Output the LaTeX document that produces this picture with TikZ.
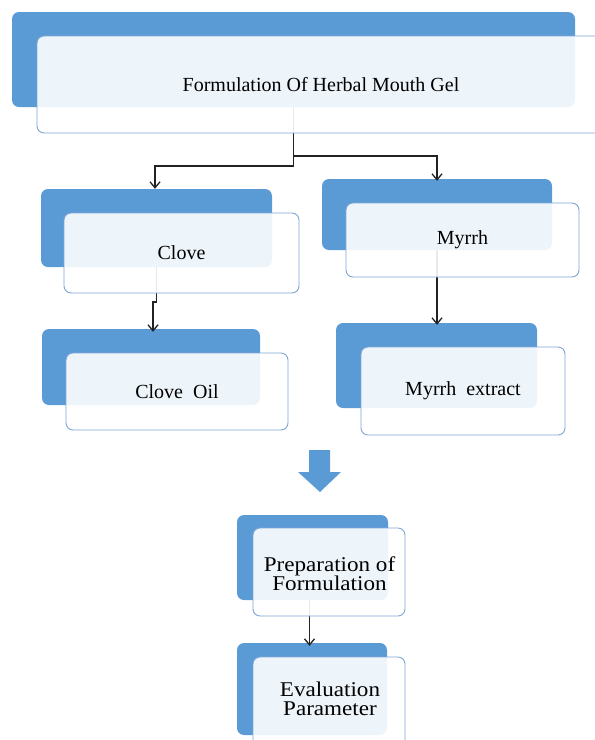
\documentclass[tikz,border=0pt]{standalone}
\usepackage{fontspec}
\setmainfont{Liberation Serif}
\newfontfamily\widefont{Liberation Serif}[FakeStretch=1.1]
\usetikzlibrary{arrows.meta}
\definecolor{boxblue}{HTML}{5B9BD5}
\definecolor{edgeblue}{HTML}{7EA6D6}
\definecolor{linecol}{HTML}{222222}
\begin{document}
\begin{tikzpicture}[x=1pt,y=-1pt,
  backbox/.style={fill=boxblue, rounded corners=7pt, inner sep=0pt, draw=none},
  frontbox/.style={fill=white, fill opacity=0.9, text opacity=1, draw=edgeblue,
    line width=0.9pt, rounded corners=7pt, inner sep=0pt, align=center,
    font=\fontsize{20}{22}\selectfont, text=black},
  boxtext/.style={inner sep=0pt, align=center, text=black,
    font=\widefont\fontsize{21}{19.5}\selectfont},
  conn/.style={draw=linecol, line width=1.3pt, -{Straight Barb[length=6pt,width=10pt]}},
  bigarrow/.style={fill=boxblue, draw=none}
]
\useasboundingbox (0,0) rectangle (595,740);

% back (blue) boxes
\node[backbox, minimum width=563pt, minimum height=95pt] (tb) at (293.5,59.5) {};
\node[backbox, minimum width=231pt, minimum height=78pt] (cb) at (156.5,228) {};
\node[backbox, minimum width=218pt, minimum height=76pt] (ob) at (151,367) {};
\node[backbox, minimum width=230pt, minimum height=71pt] (mb) at (437,214.5) {};
\node[backbox, minimum width=201pt, minimum height=85pt] (eb) at (436.5,365.5) {};
\node[backbox, minimum width=151pt, minimum height=85pt] (pb) at (312.5,557.5) {};
\node[backbox, minimum width=150pt, minimum height=92pt] (vb) at (312,689) {};

% connectors
\coordinate (j1) at (293.5,166);
\coordinate (j2) at (293.5,156);
\draw[conn] (tb.south) -- (j1) -| ([xshift=-1.5pt]cb.north);
\draw[conn] (j2) -| ([yshift=-2pt]mb.north);
\coordinate (j3) at (156.5,302);
\coordinate (j4) at (153,302);
\draw[conn] (cb.south) -- (j3) -- (j4) -- ([yshift=-3pt]j4 |- ob.north);
\draw[conn] (mb.south) -- ([yshift=-2pt]mb.south |- eb.north);
\draw[conn] ([xshift=-3pt]pb.south) -- ([yshift=-3pt,xshift=-3pt]pb.south |- vb.north);

% big down arrow
\fill[bigarrow] (309,450) -- (330,450) -- (330,472) -- (341,472) -- (320,492)
  -- (298,472) -- (309,472) -- cycle;

% front (white) boxes
\node[frontbox, minimum width=568pt, minimum height=97pt] (tf) at (321,84.5)
  {Formulation Of Herbal Mouth Gel};
\node[frontbox, minimum width=235pt, minimum height=80pt] (cf) at (181.5,253) {Clove};
\node[frontbox, minimum width=222pt, minimum height=77pt] (of) at (177,391.5) {Clove\ \ Oil};
\node[frontbox, minimum width=233pt, minimum height=74pt] (mf) at (462.5,240) {Myrrh};
\node[frontbox, minimum width=204pt, minimum height=88pt] (ef) at (463,391) {Myrrh\ \ extract};
\node[frontbox, minimum width=152pt, minimum height=88pt] (pf) at (329,572) {};
\node[frontbox, minimum width=152pt, minimum height=93pt] (vf) at (329,703.5) {};
\node[boxtext] (pft) at (329.5,573.5) {Preparation of\\Formulation};
\node[boxtext] (vft) at (330,699) {Evaluation\\Parameter};
\end{tikzpicture}
\end{document}
